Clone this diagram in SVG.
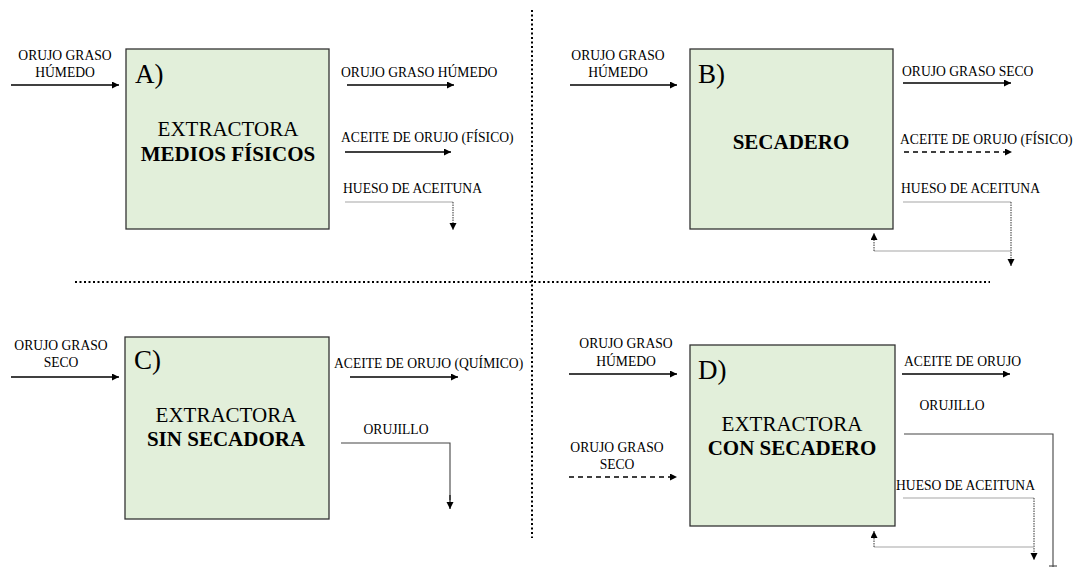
<svg xmlns="http://www.w3.org/2000/svg" width="1075" height="567" viewBox="0 0 1075 567" font-family="Liberation Serif, DejaVu Serif, serif">
<style>
  text { fill: #000; }
  .lbl { font-size: 13.6px; }
  .mid { text-anchor: middle; }
  .big { font-size: 21px; text-anchor: middle; }
  .bold { font-weight: bold; }
  .tag { font-size: 27px; }
  .box { fill: #e2efda; stroke: #333; stroke-width: 1.3; }
  .arr { fill: none; stroke: #000; stroke-width: 1.5; marker-end: url(#ah); }
  .dash { fill: none; stroke: #000; stroke-width: 1.5; stroke-dasharray: 5 4; marker-end: url(#ah); }
  .grey { fill: none; stroke: #a6a6a6; stroke-width: 1.2; }
  .dot { fill: none; stroke: #333; stroke-width: 1; stroke-dasharray: 1.5 1; }
  .doth { marker-end: url(#ah); }
  .thin { fill: none; stroke: #444; stroke-width: 1.1; }
  .sep { fill: none; stroke: #000; stroke-width: 2; stroke-dasharray: 2 2.5; }
</style>
<defs>
  <marker id="ah" markerUnits="userSpaceOnUse" markerWidth="8" markerHeight="8" refX="7" refY="3.5" orient="auto">
    <path d="M0,0 L7,3.5 L0,7 z" fill="#000"/>
  </marker>
</defs>

<g id="separators">
  <path class="sep" d="M532,10 V538"/>
  <path class="sep" d="M75,282 H990"/>
</g>

<g id="nodeA">
  <rect class="box" x="126" y="49" width="203" height="180"/>
  <text class="tag" x="135" y="83">A)</text>
  <text class="big" x="228" y="136">EXTRACTORA</text>
  <text class="big bold" x="228" y="161">MEDIOS FÍSICOS</text>
</g>
<g id="nodeB">
  <rect class="box" x="690" y="49" width="203" height="180"/>
  <text class="tag" x="698" y="83">B)</text>
  <text class="big bold" x="791" y="149">SECADERO</text>
</g>
<g id="nodeC">
  <rect class="box" x="125" y="337" width="204" height="182"/>
  <text class="tag" x="134" y="369">C)</text>
  <text class="big" x="226" y="422">EXTRACTORA</text>
  <text class="big bold" x="226" y="446">SIN SECADORA</text>
</g>
<g id="nodeD">
  <rect class="box" x="690" y="345" width="205" height="181"/>
  <text class="tag" x="698" y="379">D)</text>
  <text class="big" x="792" y="431">EXTRACTORA</text>
  <text class="big bold" x="792" y="455">CON SECADERO</text>
</g>

<g id="labels">
  <text class="lbl mid" x="65" y="60">ORUJO GRASO</text>
  <text class="lbl mid" x="65" y="77">HÚMEDO</text>
  <text class="lbl" x="341" y="77">ORUJO GRASO HÚMEDO</text>
  <text class="lbl" x="341" y="142">ACEITE DE ORUJO (FÍSICO)</text>
  <text class="lbl" x="343" y="193">HUESO DE ACEITUNA</text>
  <text class="lbl mid" x="618" y="60">ORUJO GRASO</text>
  <text class="lbl mid" x="618" y="77">HÚMEDO</text>
  <text class="lbl" x="902" y="76">ORUJO GRASO SECO</text>
  <text class="lbl" x="900" y="144">ACEITE DE ORUJO (FÍSICO)</text>
  <text class="lbl" x="901" y="193">HUESO DE ACEITUNA</text>
  <text class="lbl mid" x="61" y="350">ORUJO GRASO</text>
  <text class="lbl mid" x="61" y="367">SECO</text>
  <text class="lbl" x="334" y="368">ACEITE DE ORUJO (QUÍMICO)</text>
  <text class="lbl mid" x="396" y="434">ORUJILLO</text>
  <text class="lbl mid" x="626" y="348">ORUJO GRASO</text>
  <text class="lbl mid" x="626" y="366">HÚMEDO</text>
  <text class="lbl mid" x="617" y="452">ORUJO GRASO</text>
  <text class="lbl mid" x="617" y="469">SECO</text>
  <text class="lbl" x="904" y="366">ACEITE DE ORUJO</text>
  <text class="lbl mid" x="952" y="410">ORUJILLO</text>
  <text class="lbl" x="896" y="490">HUESO DE ACEITUNA</text>
</g>

<g id="connectors">
  <path class="arr" d="M11,85 H119"/>
  <path class="arr" d="M347,85 H454"/>
  <path class="arr" d="M345,152 H451"/>
  <path class="grey" d="M345,202 H453"/>
  <path class="dot doth" d="M453,202 V230"/>
  <path class="arr" d="M570,85 H677"/>
  <path class="arr" d="M903,83 H1011"/>
  <path class="dash" d="M904,152 H1012"/>
  <path class="grey" d="M903,202 H1011"/>
  <path class="dot doth" d="M1011,202 V266"/>
  <path class="grey" d="M1011,251 H874"/>
  <path class="dot doth" d="M874,251 V233"/>
  <path class="arr" d="M11,377 H119"/>
  <path class="arr" d="M350,377 H458"/>
  <path class="thin" d="M341,443 H450 V500"/>
  <path class="arr" d="M450,495 V509" style="stroke-width:1.1"/>
  <path class="arr" d="M569,374 H677"/>
  <path class="dash" d="M569,477 H677"/>
  <path class="arr" d="M902,374 H1010"/>
  <path class="thin" d="M904,434 H1053 V567"/>
  <path class="thin" d="M1049,566 H1057"/>
  <path class="grey" d="M903,498 H1034"/>
  <path class="dot doth" d="M1034,498 V560"/>
  <path class="grey" d="M1034,547 H874"/>
  <path class="dot doth" d="M874,547 V531"/>
</g>
</svg>
